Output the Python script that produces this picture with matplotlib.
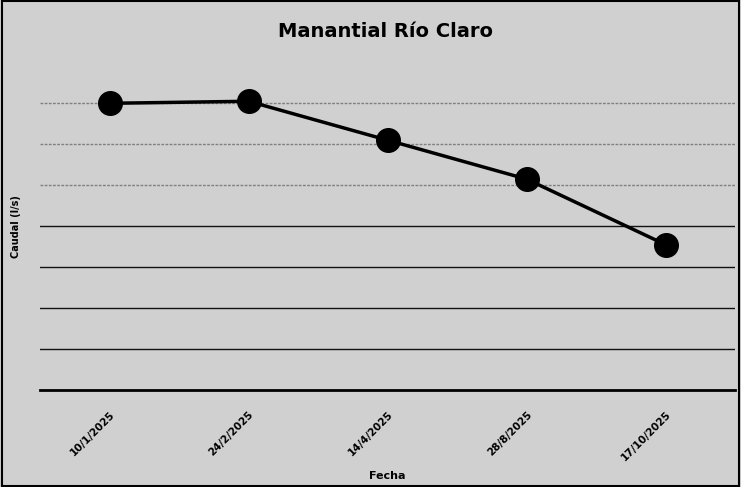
import matplotlib.pyplot as plt

# Data (values estimated from gridline spacing).
fechas = ['10/1/2025', '24/2/2025', '14/4/2025', '28/8/2025', '17/10/2025']
caudal = [7.0, 7.05, 6.1, 5.15, 3.55]
etiquetas = ['7.0', '7.1', '6.1', '5.2', '3.6']

fig = plt.figure(figsize=(7.41, 4.87), dpi=100)
fig.patch.set_facecolor('#d0d0d0')
ax = fig.add_axes([0.054, 0.199, 0.938, 0.673])
ax.set_facecolor('#d0d0d0')

x = list(range(len(fechas)))

# Gridlines: upper ones look faded on the scan, lower ones dark.
for g in range(1, 8):
    col = '#111111' if g <= 4 else '#808080'
    ls = '-' if g <= 4 else (0, (2, 1))
    ax.axhline(g, color=col, linewidth=1.0, linestyle=ls, zorder=1)

ax.plot(x, caudal, color='black', linewidth=2.5, zorder=3)
ax.plot(x, caudal, 'o', color='black', markersize=17, zorder=4)
for xi, yi, lab in zip(x, caudal, etiquetas):
    ax.text(xi, yi, lab, ha='center', va='center', fontsize=8, fontweight='bold', color='black', zorder=2)

ax.set_xlim(-0.5, 4.5)
ax.set_ylim(0, 8)
ax.set_yticks([])
ax.set_xticks(x)
ax.set_xticklabels(fechas, rotation=45, ha='right', rotation_mode='anchor', fontsize=7.5, fontweight='bold')
ax.tick_params(axis='x', length=0, pad=14)
for side in ['top', 'right', 'left']:
    ax.spines[side].set_visible(False)
ax.spines['bottom'].set_linewidth(2)

ax.set_xlabel('Fecha', fontsize=8, fontweight='bold', labelpad=6)
ax.set_ylabel('Caudal (l/s)', fontsize=7, fontweight='bold', labelpad=14)
fig.text(0.52, 0.935, 'Manantial Río Claro', ha='center', va='center', fontsize=14, fontweight='bold')

# Scan border
fig.patches.append(plt.Rectangle((0.003, 0.003), 0.994, 0.994, transform=fig.transFigure,
                                 fill=False, edgecolor='black', linewidth=1.5))

fig.savefig('out.png', dpi=100, facecolor=fig.get_facecolor())
